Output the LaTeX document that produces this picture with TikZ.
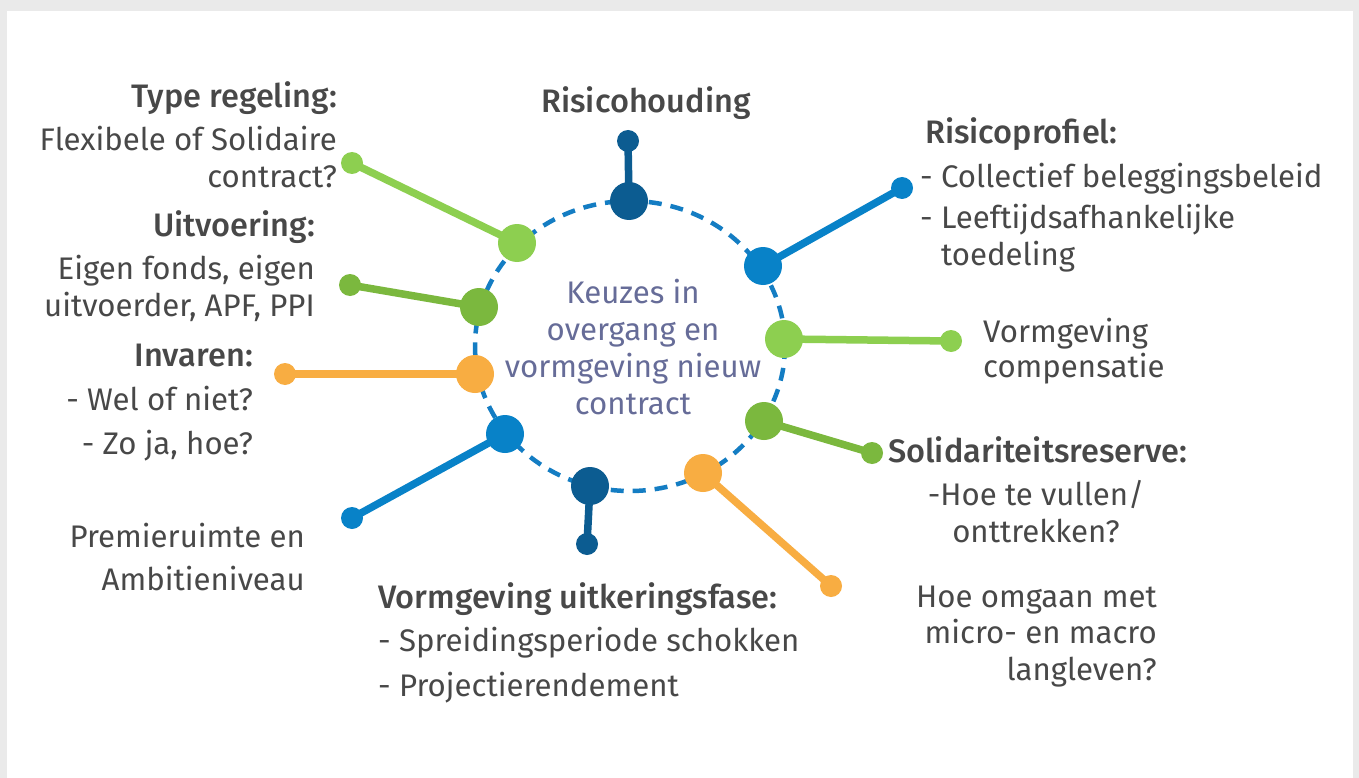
\documentclass[tikz,border=0pt]{standalone}
\usepackage{fontspec}
\setmainfont{Fira Sans}
\newfontfamily\hdfam{Fira Sans Medium}
\usetikzlibrary{backgrounds}
\definecolor{darkblue}{RGB}{12,92,145}
\definecolor{midblue}{RGB}{8,130,200}
\definecolor{lgreen}{RGB}{141,207,80}
\definecolor{mgreen}{RGB}{123,184,62}
\definecolor{orangec}{RGB}{248,173,66}
\definecolor{dashblue}{RGB}{20,125,195}
\definecolor{textgray}{RGB}{72,72,72}
\definecolor{slate}{RGB}{102,108,152}
\definecolor{framegray}{RGB}{234,234,234}
\newcommand\hdfont{\fontsize{32.5}{37}\selectfont\hdfam}
\tikzset{
  bigdot/.style={circle, fill=#1, minimum size=38pt, inner sep=0pt},
  smalldot/.style={circle, fill=#1, minimum size=22pt, inner sep=0pt},
  link/.style={line width=7.5pt, draw=#1},
  txt/.style={text=textgray, font=\fontsize{31.2}{37}\selectfont, inner sep=0pt},
  hd/.style={font=\hdfont}
}
\begin{document}
\begin{tikzpicture}[x=1pt,y=-1pt]
\useasboundingbox (0,0) rectangle (1359,778);
\begin{scope}[on background layer]
  \fill[framegray] (0,0) rectangle (1359,778);
  \fill[white] (7,11) rectangle (1353,778);
  \draw[dashblue, line width=4.5pt, dash pattern=on 13pt off 9pt] (630,346) ellipse [x radius=155, y radius=145];
\end{scope}

% big dots on the ring
\node[bigdot=darkblue] (btop) at (629,201) {};
\node[bigdot=midblue]  (bru)  at (763,266) {};
\node[bigdot=lgreen]   (brr)  at (784,339) {};
\node[bigdot=mgreen]   (brd)  at (764,421) {};
\node[bigdot=orangec]  (bro)  at (703,473) {};
\node[bigdot=darkblue] (bbot) at (590,486) {};
\node[bigdot=midblue]  (bld)  at (505,434) {};
\node[bigdot=orangec]  (blo)  at (475,374) {};
\node[bigdot=mgreen]   (blm)  at (479,307) {};
\node[bigdot=lgreen]   (blu)  at (517,243) {};

% small end dots
\node[smalldot=darkblue] (stop) at (628,141) {};
\node[smalldot=midblue]  (sru)  at (902,188) {};
\node[smalldot=lgreen]   (srr)  at (951,341) {};
\node[smalldot=mgreen]   (srd)  at (872,453) {};
\node[smalldot=orangec]  (sro)  at (831,586) {};
\node[smalldot=darkblue] (sbot) at (587,544) {};
\node[smalldot=midblue]  (sld)  at (352,518) {};
\node[smalldot=orangec]  (slo)  at (285,374) {};
\node[smalldot=mgreen]   (slm)  at (350,285) {};
\node[smalldot=lgreen]   (slu)  at (352,163) {};

\begin{scope}[on background layer]
  \draw[link=darkblue] (btop.center) -- (stop.center);
  \draw[link=midblue]  (bru.center) -- (sru.center);
  \draw[link=lgreen]   (brr.center) -- (srr.center);
  \draw[link=mgreen]   (brd.center) -- (srd.center);
  \draw[link=orangec]  (bro.center) -- (sro.center);
  \draw[link=darkblue] (bbot.center) -- (sbot.center);
  \draw[link=midblue]  (bld.center) -- (sld.center);
  \draw[link=orangec]  (blo.center) -- (slo.center);
  \draw[link=mgreen]   (blm.center) -- (slm.center);
  \draw[link=lgreen]   (blu.center) -- (slu.center);
\end{scope}

% centre text (anchored at the baseline of its last line)
\node[txt, text=slate, align=center, anchor=base] (centre) at (633,414)
  {Keuzes in\\overgang en\\vormgeving nieuw\\contract};

% labels (anchored at the baseline of their last line)
\node[txt, align=right, anchor=base east] (ttype) at (337,188)
  {{\hdfont Type regeling:}\\[6pt]Flexibele of Solidaire\\contract?};
\node[txt, align=right, anchor=base east] (tuitv) at (315,316)
  {{\hdfont Uitvoering:}\\[6pt]Eigen fonds, eigen\\uitvoerder, APF, PPI};
\node[txt, align=right, anchor=base east] (tinv) at (253,454)
  {{\hdfont Invaren:}\\[7pt]- Wel of niet?\\[7pt]- Zo ja, hoe?};
\node[txt, align=right, anchor=base east] (tprem) at (305,590)
  {Premieruimte en\\[6pt]Ambitieniveau};
\node[txt, hd, text=textgray, anchor=base] (thoud) at (646,113) {Risicohouding};
\node[txt, align=left, anchor=base west] (tprof) at (920,265)
  {\hspace*{5pt}{\hdfont Risicoprofiel:}\\[7pt]- Collectief beleggingsbeleid\\[4pt]- Leeftijdsafhankelijke\\\phantom{- }toedeling};
\node[txt, align=left, anchor=base west] (tcomp) at (983,377)
  {Vormgeving\\[-2pt]compensatie};
\node[txt, hd, text=textgray, anchor=base west] (tsolh) at (888,462) {Solidariteitsreserve:};
\node[txt, align=center, anchor=base] (tsolb) at (1036,542)
  {-Hoe te vullen/\\onttrekken?};
\node[txt, align=right, anchor=base east] (tlang) at (1157,680)
  {Hoe omgaan met\\[-1pt]micro- en macro\\langleven?};
\node[txt, align=left, anchor=base west] (tuitk) at (378,696)
  {{\hdfont Vormgeving uitkeringsfase:}\\[6pt]- Spreidingsperiode schokken\\[8pt]- Projectierendement};
\end{tikzpicture}
\end{document}
